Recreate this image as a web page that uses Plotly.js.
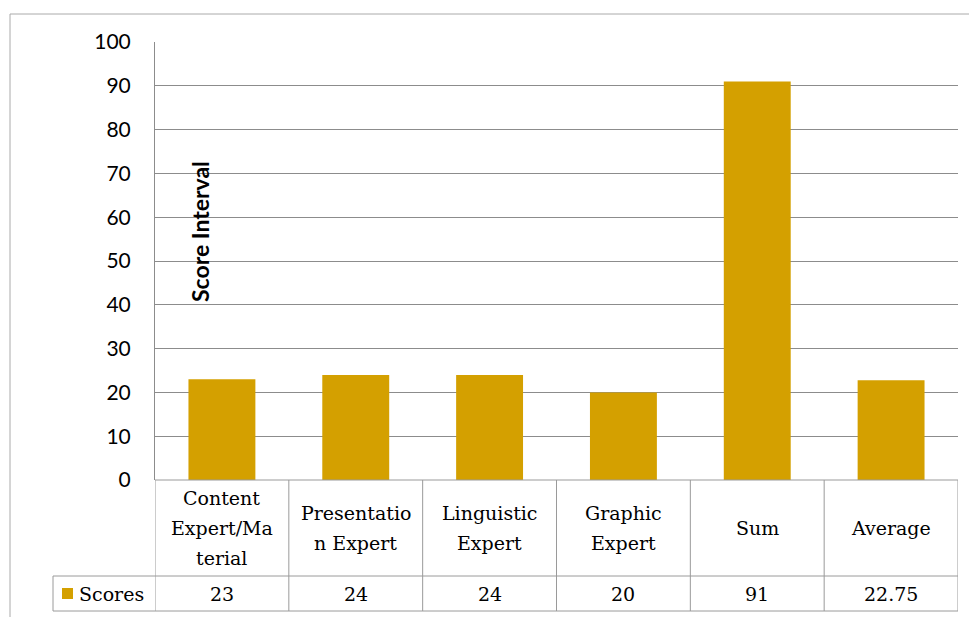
<!DOCTYPE html>
<html>
<head>
<meta charset="utf-8">
<script src="https://cdn.plot.ly/plotly-3.0.1.min.js"></script>
<style>html,body{margin:0;padding:0;background:#fff;}#chart{width:969px;height:617px;}</style>
</head>
<body>
<div id="chart"></div>
<script>
// ---- data ----
const categories = ["Content Expert/Material", "Presentation Expert", "Linguistic Expert", "Graphic Expert", "Sum", "Average"];
const headerLines = [["Content", "Expert/Ma", "terial"], ["Presentatio", "n Expert"], ["Linguistic", "Expert"], ["Graphic", "Expert"], ["Sum"], ["Average"]];
const scores = [23, 24, 24, 20, 91, 22.75];
const valueLabels = ["23", "24", "24", "20", "91", "22.75"];
const seriesName = "Scores";
const yTitle = "Score Interval";

// ---- geometry helpers (pixels -> paper) ----
const W = 969, H = 617;
const L = 155, R = 958, T = 42, B = 480;
const px = x => (x - L) / (R - L);
const py = y => (B - y) / (B - T);

const barColor = "#D4A000";
const lineColor = "#9a9a9a";
const serif = "DejaVu Serif";
const tableFont = {family: serif, size: 19, color: "#000"};

const shapes = [];
const n = categories.length;
for (let i = 0; i <= n; i++) {
  shapes.push({type: "line", xref: "x", yref: "paper", x0: i - 0.5, x1: i - 0.5, y0: py(480), y1: py(611),
    line: {color: lineColor, width: 1}});
}
shapes.push({type: "line", xref: "paper", yref: "paper", x0: px(53), x1: px(53), y0: py(576), y1: py(611), line: {color: lineColor, width: 1}});
shapes.push({type: "line", xref: "paper", yref: "paper", x0: 0, x1: 1, y0: py(480), y1: py(480), line: {color: lineColor, width: 1}});
shapes.push({type: "line", xref: "paper", yref: "paper", x0: px(53), x1: 1, y0: py(576), y1: py(576), line: {color: lineColor, width: 1}});
shapes.push({type: "line", xref: "paper", yref: "paper", x0: px(53), x1: 1, y0: py(611), y1: py(611), line: {color: lineColor, width: 1}});
shapes.push({type: "rect", xref: "paper", yref: "paper", x0: px(62), x1: px(73), y0: py(599), y1: py(588),
  fillcolor: barColor, line: {width: 0}});
shapes.push({type: "line", xref: "paper", yref: "paper", x0: px(10), x1: px(10), y0: py(14), y1: py(617), line: {color: "#aaaaaa", width: 1}});
shapes.push({type: "line", xref: "paper", yref: "paper", x0: px(10), x1: px(969), y0: py(14), y1: py(14), line: {color: "#aaaaaa", width: 1}});

const annotations = [];
const lineGap = 30, headerCenter = 528;
categories.forEach((c, i) => {
  const lines = headerLines[i];
  lines.forEach((t, k) => {
    const yc = headerCenter + (k - (lines.length - 1) / 2) * lineGap;
    annotations.push({xref: "x", yref: "paper", x: i, y: py(yc), text: t, showarrow: false,
      xanchor: "center", yanchor: "middle", font: tableFont});
  });
  annotations.push({xref: "x", yref: "paper", x: i, y: py(594), text: valueLabels[i], showarrow: false,
    xanchor: "center", yanchor: "middle", font: tableFont});
});
annotations.push({xref: "paper", yref: "paper", x: px(77), y: py(594), text: seriesName, showarrow: false,
  xanchor: "left", yanchor: "middle", font: tableFont});
annotations.push({xref: "paper", yref: "paper", x: px(200), y: py(232), text: "<b>" + yTitle + "</b>", textangle: -90,
  showarrow: false, xanchor: "center", yanchor: "middle", font: {family: "Lato", size: 23, color: "#000"}});

const data = [{
  type: "bar", x: categories, y: scores, name: seriesName,
  marker: {color: barColor, line: {width: 0}}, width: 0.5, hoverinfo: "skip"
}];

const layout = {
  width: W, height: H,
  margin: {l: L, r: W - R, t: T, b: H - B, pad: 0},
  paper_bgcolor: "#fff", plot_bgcolor: "#fff",
  showlegend: false,
  xaxis: {type: "category", range: [-0.5, n - 0.5], showticklabels: false, ticks: "", showgrid: false, zeroline: false, showline: false, fixedrange: true},
  yaxis: {range: [0, 100], dtick: 10, tick0: 0, showgrid: true, gridcolor: "#8c8c8c", gridwidth: 1, zeroline: false,
    showline: true, linecolor: "#8c8c8c", linewidth: 1, ticks: "", ticklabelstandoff: 19,
    tickfont: {family: "Lato", size: 21, color: "#000"}, fixedrange: true},
  shapes: shapes,
  annotations: annotations
};

Plotly.newPlot("chart", data, layout, {displayModeBar: false, staticPlot: true});
</script>
</body>
</html>
